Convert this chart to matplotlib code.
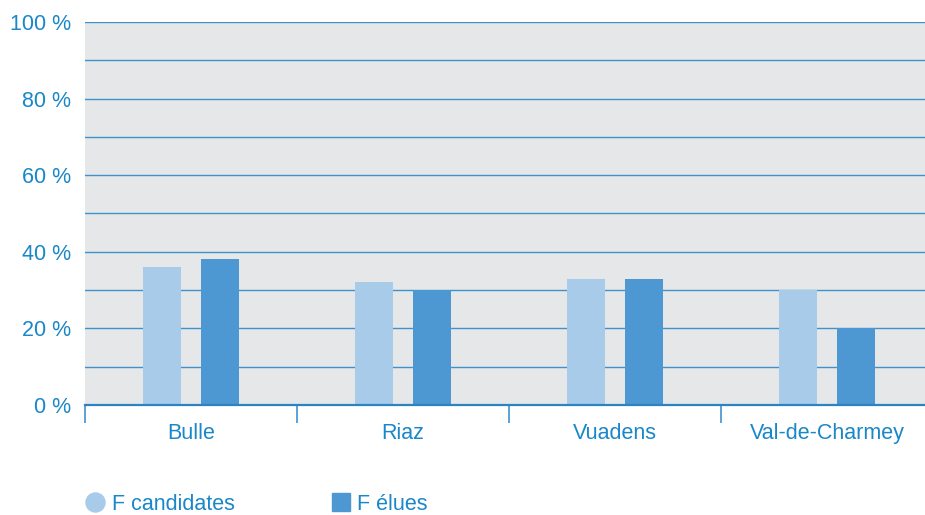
import numpy as np
import matplotlib.pyplot as plt
from matplotlib.lines import Line2D
from matplotlib.patches import Patch

communes = ['Bulle', 'Riaz', 'Vuadens', 'Val-de-Charmey']
candidates = [36, 32, 33, 30]
elues = [38, 30, 33, 20]

light = '#a7cbe8'
dark = '#4d98d2'
txt = '#1a87c8'
grid = '#3f92cc'

plt.rcParams['font.family'] = ['Liberation Sans', 'DejaVu Sans']

fig = plt.figure(figsize=(9.25, 5.15), dpi=100)
ax = fig.add_axes([85/925, 1 - 405/515, 848/925, 383/515])
ax.set_facecolor('#e6e7e9')

x = np.arange(len(communes))
w = 0.18
off = 0.135
ax.bar(x - off, candidates, w, color=light, zorder=3)
ax.bar(x + off, elues, w, color=dark, zorder=3)

ax.set_xlim(-0.5, 3.5)
ax.set_ylim(0, 100)
for v in range(10, 101, 10):
    ax.axhline(v, color=grid, lw=1.0, zorder=2)
ax.axhline(0, color='#2a84c4', lw=1.6, zorder=4, clip_on=False)

for s in ax.spines.values():
    s.set_visible(False)

ax.set_yticks(range(0, 101, 20))
ax.set_yticklabels([f'{v} %' for v in range(0, 101, 20)])
ax.tick_params(axis='y', length=0, pad=10, labelsize=15.5, labelcolor=txt)

ax.set_xticks(x)
ax.set_xticklabels(communes)
ax.tick_params(axis='x', length=0, pad=13, labelsize=15.5, labelcolor=txt)
ax.set_xticks([-0.5, 0.5, 1.5, 2.5], minor=True)
ax.tick_params(axis='x', which='minor', length=13, width=1.2, color=grid, direction='out')

handles = [
    Line2D([], [], marker='o', ls='none', markersize=13.7, markerfacecolor=light, markeredgecolor=light),
    Patch(facecolor=dark, edgecolor=dark),
]
fig.legend(handles, ['F candidates', 'F élues'], loc='center left',
           bbox_to_anchor=(86/925, 1 - 504/515), ncol=2, frameon=False,
           fontsize=15.5, labelcolor=txt, columnspacing=4.5, handlelength=0.85,
           handletextpad=0.35, handleheight=0.85, borderpad=0, borderaxespad=0)

fig.savefig('out.png', dpi=100)
